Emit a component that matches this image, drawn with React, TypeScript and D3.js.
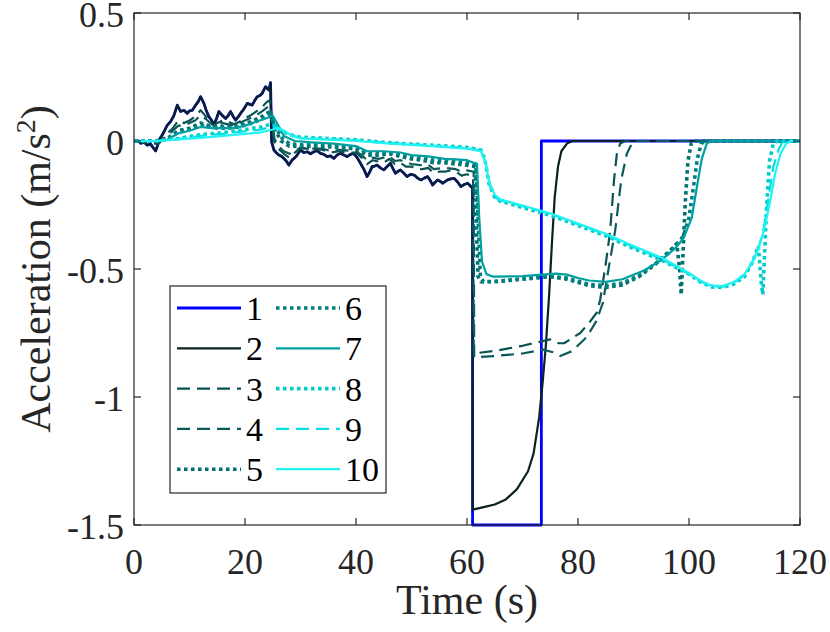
import React from 'react';
import * as d3 from 'd3';

type Pt = [number, number];

// leader acceleration before the braking event (vehicles 1 and 2 overlap here)
const leadNoisy: Pt[] = [
  [0, 0], [0.9, 0], [1.2, -0.009], [1.8, -0.005], [2.4, -0.016], [3.0, -0.012], [3.3, -0.022],
  [3.9, -0.039], [4.2, -0.02], [4.5, 0.004], [5.0, 0.02], [5.4, 0.036], [6.0, 0.062], [6.6, 0.076],
  [7.2, 0.1], [7.8, 0.14], [8.4, 0.115], [9.0, 0.12], [9.6, 0.108], [10.0, 0.118], [10.5, 0.12],
  [11.1, 0.14], [11.6, 0.155], [12.0, 0.173], [12.6, 0.147], [13.0, 0.12], [13.5, 0.095], [14.0, 0.08],
  [14.4, 0.062], [14.9, 0.09], [15.3, 0.115], [15.9, 0.1], [16.5, 0.088], [17.0, 0.1], [17.4, 0.115],
  [17.9, 0.095], [18.3, 0.082], [18.8, 0.095], [19.2, 0.108], [19.8, 0.125], [20.4, 0.147], [21.3, 0.14],
  [21.8, 0.16], [22.2, 0.173], [22.7, 0.178], [23.1, 0.186], [23.4, 0.2], [23.7, 0.212], [24.3, 0.199],
  [24.6, 0.228], [24.8, -0.003], [25.2, -0.035], [25.6, -0.045], [26.1, -0.055], [26.6, -0.06],
  [27.0, -0.068], [27.5, -0.08], [27.9, -0.094], [28.5, -0.074], [29.0, -0.065], [29.4, -0.055],
  [30.0, -0.035], [30.6, -0.045], [31.2, -0.042], [31.8, -0.05], [32.4, -0.042], [33.0, -0.038],
  [33.6, -0.048], [34.2, -0.052], [34.8, -0.061], [35.4, -0.058], [36.0, -0.068], [36.6, -0.055],
  [37.2, -0.048], [37.8, -0.055], [38.4, -0.061], [39.0, -0.052], [39.6, -0.048], [40.2, -0.065],
  [40.8, -0.087], [41.4, -0.11], [42.0, -0.139], [42.5, -0.12], [42.9, -0.1], [43.4, -0.098],
  [43.8, -0.094], [44.4, -0.105], [45.0, -0.113], [45.6, -0.1], [46.2, -0.087], [46.6, -0.105],
  [47.1, -0.126], [47.6, -0.118], [48.0, -0.113], [48.6, -0.125], [49.2, -0.139], [49.8, -0.13],
  [50.5, -0.133], [51.1, -0.145], [51.7, -0.152], [52.3, -0.145], [52.9, -0.139], [53.4, -0.155],
  [53.8, -0.172], [54.3, -0.16], [54.7, -0.152], [55.2, -0.158], [55.6, -0.165], [56.1, -0.158],
  [56.5, -0.152], [57.1, -0.148], [57.7, -0.146], [58.3, -0.16], [58.9, -0.178], [59.5, -0.17],
  [60.1, -0.165], [60.6, -0.175], [61.0, -0.185],
];

const v1: Pt[] = [...leadNoisy, [61.0, -1.5], [73.4, -1.5], [73.4, 0], [120, 0]];

const v2: Pt[] = [
  ...leadNoisy, [61.05, -1.44], [63, -1.43], [65, -1.42], [67, -1.4], [69, -1.36], [71, -1.29],
  [72, -1.22], [73, -1.08], [73.6, -0.95], [74.2, -0.8], [74.8, -0.6], [75.3, -0.4], [75.8, -0.22],
  [76.4, -0.1], [77, -0.04], [78, -0.01], [79, 0], [120, 0],
];

const v3: Pt[] = [
  [0, 0], [3, -0.01], [4.5, -0.01], [6, 0.03], [7, 0.05], [8, 0.08], [9, 0.07], [10, 0.08], [11, 0.095],
  [12, 0.12], [12.8, 0.1], [13.5, 0.08], [14.3, 0.06], [15, 0.07], [16, 0.08], [17, 0.075], [18, 0.065],
  [19, 0.075], [20, 0.09], [21, 0.1], [22, 0.115], [23, 0.13], [23.8, 0.15], [24.5, 0.16], [25.2, 0.0],
  [26, -0.03], [27, -0.05], [28, -0.065], [29, -0.045], [30, -0.028], [31, -0.03], [32.5, -0.03],
  [34, -0.035], [35.5, -0.045], [37, -0.04], [38.5, -0.045], [40, -0.045], [41, -0.065], [42, -0.09],
  [43, -0.075], [44, -0.08], [45, -0.085], [46, -0.07], [47, -0.09], [48, -0.085], [49, -0.1],
  [50, -0.1], [51, -0.11], [52, -0.11], [53, -0.105], [54, -0.125], [55, -0.12], [56, -0.12],
  [57, -0.115], [58, -0.12], [59, -0.135], [60, -0.13], [61.1, -0.14], [61.2, -0.83], [65, -0.82],
  [70, -0.8], [74, -0.78], [75, -0.775], [76.5, -0.79], [77.5, -0.79], [80.4, -0.75], [82, -0.71],
  [83.4, -0.67], [84, -0.62], [85, -0.48], [85.8, -0.35], [86.5, -0.15], [87, -0.05], [87.6, -0.01],
  [88.5, 0], [120, 0],
];

const v4: Pt[] = [
  [0, 0], [3, -0.005], [4.5, -0.005], [6, 0.02], [7, 0.04], [8, 0.06], [9, 0.06], [10, 0.07],
  [11, 0.08], [12, 0.1], [13, 0.085], [13.5, 0.075], [14.5, 0.058], [15, 0.065], [16, 0.07], [17, 0.065],
  [18, 0.06], [19, 0.07], [20, 0.08], [21, 0.09], [22, 0.1], [23, 0.115], [24.5, 0.14], [25.3, 0.01],
  [26, -0.02], [27, -0.04], [28, -0.05], [29, -0.04], [30, -0.025], [31, -0.03], [34, -0.03],
  [35.5, -0.04], [37, -0.035], [40, -0.04], [41, -0.055], [42, -0.075], [43, -0.065], [44, -0.07],
  [46, -0.06], [47, -0.078], [48, -0.075], [50, -0.09], [52, -0.095], [53, -0.092], [54, -0.11],
  [56, -0.105], [58, -0.11], [59, -0.12], [60, -0.115], [61.2, -0.12], [61.3, -0.845], [65, -0.84],
  [70, -0.83], [73.7, -0.815], [75.5, -0.825], [76.8, -0.84], [79, -0.82], [81.6, -0.765], [83.4, -0.7],
  [84.5, -0.63], [85.5, -0.5], [86.7, -0.35], [87.8, -0.15], [88.8, -0.05], [89.7, -0.01], [90.5, 0],
  [120, 0],
];

const v5: Pt[] = [
  [0, 0], [4.5, 0], [6, 0.01], [8, 0.04], [10, 0.05], [12, 0.07], [13.5, 0.06], [15, 0.055],
  [17, 0.055], [19, 0.06], [21, 0.075], [23, 0.095], [24.5, 0.115], [25.5, 0.04], [26.5, 0.0],
  [28, -0.02], [30, -0.02], [33, -0.02], [37, -0.025], [40, -0.03], [42, -0.055], [44, -0.055],
  [46, -0.05], [48, -0.06], [50, -0.07], [52, -0.075], [54, -0.085], [56, -0.085], [58, -0.09],
  [60, -0.095], [61.5, -0.1], [61.7, -0.35], [62, -0.53], [62.5, -0.55], [65, -0.55], [70, -0.54],
  [75, -0.53], [78, -0.54], [82, -0.565], [85, -0.572], [88, -0.562], [91, -0.53], [94, -0.48],
  [96.5, -0.43], [97.8, -0.4], [98.3, -0.5], [98.6, -0.6], [98.9, -0.45], [99.3, -0.25], [99.8, -0.08],
  [100.4, -0.01], [101, 0], [120, 0],
];

const v6: Pt[] = [
  [0, 0], [4.5, 0], [6, 0.008], [8, 0.035], [10, 0.045], [12, 0.062], [13.5, 0.055], [15, 0.05],
  [17, 0.05], [19, 0.055], [21, 0.068], [23, 0.085], [24.5, 0.105], [25.6, 0.05], [26.7, 0.01],
  [28, -0.01], [30, -0.015], [33, -0.015], [37, -0.02], [40, -0.025], [42, -0.045], [44, -0.048],
  [46, -0.045], [48, -0.052], [50, -0.062], [52, -0.066], [54, -0.075], [56, -0.076], [58, -0.08],
  [60, -0.085], [61.6, -0.09], [62, -0.3], [62.4, -0.53], [63, -0.55], [65, -0.548], [70, -0.538],
  [75, -0.528], [78, -0.535], [82, -0.56], [85, -0.565], [88, -0.555], [91, -0.525], [94, -0.478],
  [96.5, -0.435], [98, -0.4], [99, -0.37], [100, -0.3], [100.8, -0.18], [101.5, -0.07], [102.2, -0.01],
  [103, 0], [120, 0],
];

const v7: Pt[] = [
  [0, 0], [4.5, 0], [6, 0.005], [8, 0.03], [10, 0.04], [12, 0.055], [14, 0.05], [16, 0.05], [18, 0.05],
  [20, 0.06], [22, 0.075], [24, 0.09], [25, 0.1], [26, 0.06], [27, 0.02], [29, 0.0], [32, -0.005],
  [36, -0.01], [40, -0.02], [42, -0.04], [45, -0.04], [48, -0.045], [50, -0.055], [53, -0.06],
  [56, -0.07], [58, -0.072], [60, -0.075], [61.8, -0.09], [62.2, -0.3], [62.7, -0.47], [63.5, -0.52],
  [64.7, -0.53], [70, -0.528], [76, -0.518], [78, -0.522], [80, -0.535], [82, -0.545], [85, -0.55],
  [88, -0.54], [92, -0.505], [95, -0.465], [97.5, -0.42], [99, -0.38], [100.5, -0.3], [101.5, -0.17],
  [102.3, -0.07], [103.2, -0.01], [104, 0], [120, 0],
];

const v8: Pt[] = [
  [0, 0], [4, 0], [8, 0.01], [12, 0.025], [16, 0.032], [20, 0.045], [23, 0.055], [24.5, 0.065],
  [25.5, 0.06], [26.5, 0.04], [28, 0.025], [30, 0.015], [35, 0.01], [40, 0.005], [45, -0.005],
  [50, -0.012], [55, -0.018], [60, -0.025], [62.5, -0.035], [63.2, -0.07], [64, -0.17], [65, -0.22],
  [66, -0.235], [70, -0.26], [75, -0.29], [80, -0.33], [85, -0.37], [90, -0.42], [95, -0.465],
  [100, -0.52], [102, -0.55], [104, -0.57], [106, -0.572], [108, -0.56], [110, -0.53], [111.5, -0.47],
  [112.5, -0.41], [113, -0.55], [113.3, -0.6], [113.6, -0.45], [114, -0.25], [114.5, -0.08],
  [115.2, -0.01], [116, 0], [120, 0],
];

const v9: Pt[] = [
  [0, 0], [4, 0], [8, 0.008], [12, 0.02], [16, 0.028], [20, 0.038], [23, 0.045], [24.5, 0.055],
  [25.7, 0.055], [27, 0.04], [28.5, 0.022], [30, 0.012], [35, 0.008], [40, 0.003], [45, -0.006],
  [50, -0.013], [55, -0.02], [60, -0.027], [62.7, -0.038], [63.4, -0.09], [64.2, -0.18], [65.2, -0.222],
  [66, -0.232], [70, -0.255], [75, -0.285], [80, -0.325], [85, -0.365], [90, -0.415], [95, -0.46],
  [100, -0.52], [102, -0.548], [104, -0.567], [106, -0.57], [108, -0.555], [110, -0.525], [111.5, -0.47],
  [112.5, -0.42], [113.3, -0.36], [114.2, -0.24], [115.2, -0.1], [116.2, -0.03], [117, 0], [120, 0],
];

const v10: Pt[] = [
  [0, 0], [4, 0], [8, 0.006], [12, 0.012], [16, 0.02], [20, 0.028], [23, 0.034], [25, 0.045],
  [26, 0.05], [27, 0.04], [28.5, 0.02], [30, 0.01], [35, 0.005], [40, 0.0], [45, -0.008], [50, -0.015],
  [55, -0.022], [60, -0.03], [62.5, -0.04], [63.3, -0.08], [64, -0.16], [65, -0.21], [66, -0.228],
  [70, -0.252], [75, -0.282], [80, -0.322], [85, -0.362], [90, -0.41], [95, -0.455], [100, -0.515],
  [102, -0.545], [104, -0.564], [106, -0.567], [108, -0.552], [110, -0.52], [111.5, -0.47],
  [112.5, -0.42], [113.5, -0.35], [114.5, -0.25], [115.5, -0.13], [116.5, -0.05], [117.5, -0.01],
  [118.5, 0], [120, 0],
];

const vehicles = ['1', '2', '3', '4', '5', '6', '7', '8', '9', '10'];
const seriesData = [v1, v2, v3, v4, v5, v6, v7, v8, v9, v10];
const xTicks = [0, 20, 40, 60, 80, 100, 120];
const yTicks = [-1.5, -1, -0.5, 0, 0.5];

const colors = ['#0000ff', '#0a2222', '#0c5252', '#0c5a5a', '#007070', '#008080', '#00a0a0', '#00cccc', '#00e2e2', '#22f2f2'];
const dashes = ['', '', '13 7', '13 7', '3.5 3.5', '3.5 3.5', '', '3.5 3.5', '13 7', ''];
const widths = [2.8, 2.2, 2.2, 2.2, 3.6, 3.6, 2.2, 3.6, 2.2, 2.2];

const W = 830;
const H = 632;
const L = 134, R = 800, T = 13, B = 525;
const FONT = '"Liberation Serif", "Times New Roman", serif';
const AX = '#262626';

const App = () => {
  const x = d3.scaleLinear().domain([0, 120]).range([L, R]);
  const y = d3.scaleLinear().domain([-1.5, 0.5]).range([B, T]);
  const line = d3.line<Pt>().x((d) => x(d[0])).y((d) => y(d[1]));
  const tick = 7;

  const legX = 170, legY = 286, legW = 216, legH = 207;
  const rowStep = 40.3;

  return (
    <svg width={W} height={H} style={{ display: 'block', position: 'absolute', left: 0, top: 0 }}>
      <rect width={W} height={H} fill="#fff" />
      {seriesData.map((d, i) => (
        <path key={i} d={line(d) || ''} fill="none" stroke={colors[i]} strokeWidth={widths[i]}
          strokeDasharray={dashes[i] || undefined} strokeLinejoin="round" />
      ))}
      {/* axes box */}
      <rect x={L} y={T} width={R - L} height={B - T} fill="none" stroke={AX} strokeWidth={1.2} />
      {xTicks.map((t) => (
        <g key={'x' + t}>
          <line x1={x(t)} x2={x(t)} y1={B} y2={B - tick} stroke={AX} strokeWidth={1.2} />
          <line x1={x(t)} x2={x(t)} y1={T} y2={T + tick} stroke={AX} strokeWidth={1.2} />
          <text x={x(t)} y={574} textAnchor="middle" fontFamily={FONT} fontSize={36} fill={AX}>{t}</text>
        </g>
      ))}
      {yTicks.map((t) => (
        <g key={'y' + t}>
          <line x1={L} x2={L + tick} y1={y(t)} y2={y(t)} stroke={AX} strokeWidth={1.2} />
          <line x1={R} x2={R - tick} y1={y(t)} y2={y(t)} stroke={AX} strokeWidth={1.2} />
          <text x={124} y={y(t) + 14} textAnchor="end" fontFamily={FONT} fontSize={36} fill={AX}>{String(t)}</text>
        </g>
      ))}
      <text x={(L + R) / 2} y={614} textAnchor="middle" fontFamily={FONT} fontSize={42} fill={AX}>Time (s)</text>
      <text transform={`translate(50,${(T + B) / 2}) rotate(-90)`} textAnchor="middle" fontFamily={FONT} fontSize={42} fill={AX}>
        Acceleration (m/s<tspan dy={-15} fontSize={28}>2</tspan><tspan dy={15}>)</tspan>
      </text>
      {/* legend */}
      <rect x={legX} y={legY} width={legW} height={legH} fill="#fff" stroke={AX} strokeWidth={1.2} />
      {vehicles.map((name, i) => {
        const col = Math.floor(i / 5);
        const row = i % 5;
        const cy = 308 + row * rowStep;
        const lx = col === 0 ? 177 : 276;
        return (
          <g key={'l' + name}>
            <line x1={lx} x2={lx + 64} y1={cy} y2={cy} stroke={colors[i]} strokeWidth={widths[i]}
              strokeDasharray={dashes[i] || undefined} />
            <text x={lx + 69} y={cy + 12} fontFamily={FONT} fontSize={34} fill="#000">{name}</text>
          </g>
        );
      })}
    </svg>
  );
};

export default App;
